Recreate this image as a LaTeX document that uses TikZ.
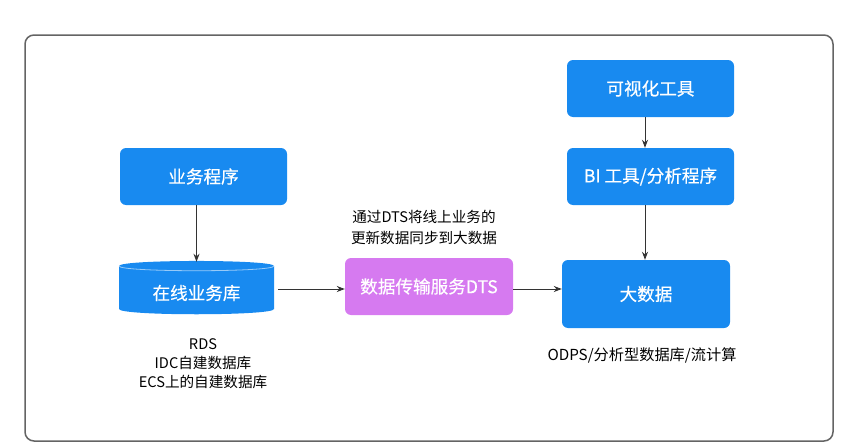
\documentclass[tikz,border=0pt]{standalone}
\usepackage{fontspec}
\setmainfont{Noto Sans CJK SC}
\newfontfamily\boxfont[FakeBold=0.4]{Noto Sans CJK SC}
\usetikzlibrary{arrows.meta}
\definecolor{bluebox}{RGB}{24,138,240}
\definecolor{purplebox}{RGB}{214,122,240}
\definecolor{framegray}{RGB}{100,100,100}
\begin{document}
\begin{tikzpicture}[x=1pt,y=-1pt,
  bbox/.style={draw=none,fill=bluebox,rounded corners=6pt,text=white,font=\boxfont\fontsize{17.6}{20}\selectfont,inner sep=0pt},
  conn/.style={draw=black!80,line width=0.9pt,-{Stealth[length=8pt,width=6pt]}},
  note/.style={font=\fontsize{14}{20}\selectfont,text=black,align=center,inner sep=0pt}]
\useasboundingbox (0,0) rectangle (852,447);
\draw[framegray,line width=1.5pt,rounded corners=9pt] (25,35) rectangle (833,441);

\node[bbox,minimum width=167pt,minimum height=57pt] (app) at (203.5,176.5) {业务程序};

% cylinder
\fill[bluebox] (119,266) -- (119,309) .. controls (119,316) and (274,316) .. (274,309)
  -- (274,266) .. controls (274,259.3) and (119,259.3) .. cycle;
\draw[white!55!bluebox,line width=0.8pt] (119,266) .. controls (119,272.3) and (274,272.3) .. (274,266);
\node[text=white,font=\boxfont\fontsize{17.6}{20}\selectfont,inner sep=0pt,minimum width=155pt,minimum height=62pt] (db) at (196.5,293) {在线业务库};

\node[bbox,fill=purplebox,minimum width=168pt,minimum height=57pt] (dts) at (429,286.5) {数据传输服务DTS};
\node[note,font=\fontsize{14.6}{21}\selectfont] (dtsnote) at (424,227) {通过DTS将线上业务的\\更新数据同步到大数据};

\node[bbox,minimum width=167pt,minimum height=57pt] (vis) at (650.5,88.5) {可视化工具};
\node[bbox,minimum width=167pt,minimum height=57pt] (bi) at (650.5,176.5) {BI 工具/分析程序};
\node[bbox,minimum width=168pt,minimum height=68pt] (big) at (646,294) {大数据};

\node[note,font=\fontsize{14.6}{19}\selectfont] (rds) at (203,364) {RDS\\IDC自建数据库\\ECS上的自建数据库};
\node[note,font=\fontsize{15.2}{20}\selectfont] (odps) at (642,355) {ODPS/分析型数据库/流计算};

\draw[conn] (app.south -| db.north) -- (db.north);
\draw[conn] ([xshift=4pt,yshift=4pt]db.east) -- ([yshift=4pt]db.east -| dts.west);
\draw[conn] (dts.east |- 0,289) -- (big.west |- 0,289);
\draw[conn] (vis.south -| 645,0) -- (bi.north -| 645,0);
\draw[conn] (bi.south -| 645,0) -- (big.north -| 645,0);
\end{tikzpicture}
\end{document}
